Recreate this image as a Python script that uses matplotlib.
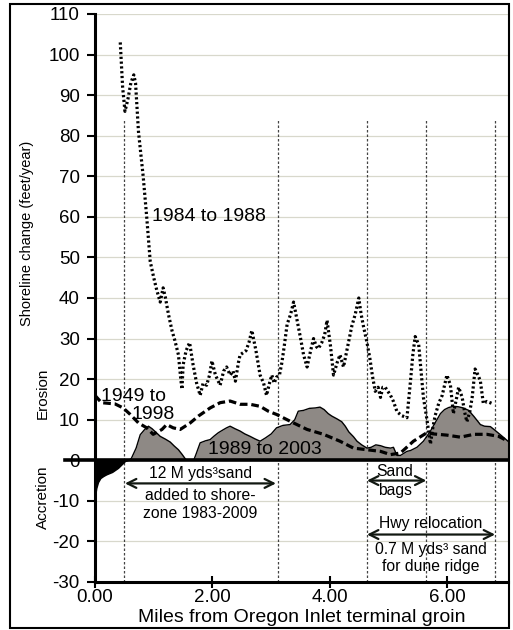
#!/usr/bin/env python3
"""
Shoreline change along the Oregon Inlet reach (three survey periods).
Writes out.png
"""

import matplotlib
matplotlib.use("Agg")
import matplotlib.pyplot as plt
from matplotlib.patches import Rectangle

# ---------- data ----------
# 1984 to 1988, dotted
miles_8488 = [0.43, 0.47, 0.51, 0.56, 0.61, 0.66, 0.69, 0.74, 0.82, 0.88, 0.94, 1.00,
              1.05, 1.11, 1.16, 1.20, 1.25, 1.31, 1.36, 1.42, 1.46, 1.48, 1.50, 1.55,
              1.61, 1.67, 1.73, 1.79, 1.84, 1.90, 1.95, 1.99, 2.05, 2.13, 2.19, 2.24,
              2.30, 2.35, 2.39, 2.44, 2.47, 2.57, 2.62, 2.67, 2.74, 2.81, 2.87, 2.92,
              2.97, 3.01, 3.05, 3.09, 3.14, 3.18, 3.22, 3.27, 3.33, 3.38, 3.44, 3.50,
              3.55, 3.61, 3.67, 3.72, 3.77, 3.80, 3.86, 3.91, 3.95, 4.01, 4.06, 4.12,
              4.17, 4.23, 4.30, 4.37, 4.43, 4.49, 4.53, 4.57, 4.63, 4.68, 4.72, 4.77,
              4.82, 4.86, 4.90, 4.94, 5.03, 5.08, 5.14, 5.22, 5.31, 5.37, 5.41, 5.45,
              5.51, 5.55, 5.59, 5.64, 5.68, 5.71, 5.75, 5.79, 5.85, 5.91, 5.99, 6.05,
              6.10, 6.15, 6.19, 6.25, 6.29, 6.33, 6.38, 6.42, 6.47, 6.52, 6.56, 6.61,
              6.67, 6.76]
rate_8488 = [103, 92, 86, 89, 93, 95, 93, 81, 70, 60, 49, 45,
             42, 39, 42.5, 40, 36, 32, 29.5, 26, 20, 17.5, 23.5, 27,
             29, 23.5, 19, 16, 19, 18.5, 21, 24.5, 21, 18.5, 22, 23,
             21, 22, 19.5, 24, 26, 27, 29, 32, 27, 21, 19, 16,
             19, 21, 19, 20.5, 21, 24, 28, 33.5, 36, 39, 34.5, 30,
             26, 23, 27, 30, 28, 27.5, 29, 31, 34.5, 28, 21, 24,
             26, 23, 28, 33, 36, 40, 36, 33, 29, 25, 21, 17,
             18, 15.5, 18, 18, 16, 14.5, 12, 11, 10.5, 19.5, 26, 30.5,
             28.5, 22, 15.5, 11, 7, 4, 8, 11, 14, 16, 21, 18.5,
             11.5, 15, 18, 15.5, 12, 9.5, 12, 15.5, 22.5, 21, 19.5, 14,
             14.5, 14]

# 1949 to 1998, dashed
miles_4998 = [0.00, 0.03, 0.11, 0.34, 0.48, 0.60, 0.74, 0.88, 0.99, 1.14, 1.22, 1.33,
              1.45, 1.62, 1.76, 1.96, 2.13, 2.30, 2.47, 2.64, 2.81, 2.95, 3.09, 3.38,
              3.61, 3.89, 4.17, 4.40, 4.63, 4.86, 5.03, 5.20, 5.42, 5.65, 5.76, 5.99,
              6.22, 6.45, 6.67, 6.87, 7.03]
rate_4998 = [16, 15.5, 14.2, 13.9, 12.9, 11.3, 9.2, 8.0, 6.4, 7.6, 8.8, 8.0,
             7.6, 9.2, 10.9, 12.9, 14.2, 14.6, 13.8, 13.8, 13.3, 12.1, 11.3, 9.2,
             7.6, 6.4, 4.7, 3.0, 2.6, 2.2, 1.4, 1.8, 4.7, 6.8, 6.5, 6.2,
             5.7, 6.4, 6.4, 5.9, 4.7]

# 1989 to 2003, filled
miles_8903 = [0.00, 0.01, 0.03, 0.06, 0.10, 0.15, 0.20, 0.30, 0.40, 0.47, 0.52, 0.58,
              0.62, 0.70, 0.77, 0.84, 0.91, 0.97, 1.03, 1.11, 1.20, 1.28, 1.35, 1.42,
              1.48, 1.53, 1.56, 1.68, 1.72, 1.79, 1.88, 1.96, 2.03, 2.10, 2.18, 2.24,
              2.30, 2.38, 2.47, 2.55, 2.64, 2.72, 2.81, 2.90, 3.00, 3.09, 3.20, 3.32,
              3.40, 3.46, 3.55, 3.65, 3.75, 3.83, 3.90, 3.97, 4.03, 4.12, 4.20, 4.26,
              4.32, 4.40, 4.46, 4.54, 4.63, 4.70, 4.78, 4.86, 4.94, 5.03, 5.08, 5.14,
              5.20, 5.31, 5.37, 5.48, 5.59, 5.71, 5.80, 5.88, 5.95, 6.02, 6.10, 6.18,
              6.27, 6.36, 6.45, 6.56, 6.63, 6.73, 6.80, 6.90, 7.03]
rate_8903 = [-10, -9, -7, -5.5, -4.5, -4, -3.6, -3, -2, -1, -0.3, 0,
             0.5, 3, 6.3, 7.5, 8.4, 7.8, 7, 5.9, 5.2, 4.5, 3.5, 2.6,
             1.5, 0.5, 0, 0, 1.5, 4.3, 4.8, 5.1, 6, 6.8, 7.5, 8,
             8.4, 7.8, 7.2, 6.5, 5.9, 5.3, 4.7, 5.5, 6.5, 8, 8.6, 8.8,
             10, 12.1, 12.3, 12.8, 12.9, 13.1, 12.5, 11.5, 10.9, 10.2, 9.5, 8.4,
             7, 5.8, 4.7, 3.8, 3.0, 3.2, 3.8, 3.6, 3.2, 3.0, 3.2, 1.2,
             1.2, 2.2, 2.4, 3.2, 4.7, 7.2, 9.5, 11.5, 12.5, 13, 13.3, 13.2,
             12.9, 12.3, 10.8, 8.8, 8.4, 8.3, 7.5, 6.3, 4.7]

# project boundaries (vertical dotted lines)
boundary_miles = [0.49, 3.12, 4.63, 5.64, 6.81]
boundary_top = 84

y_ticks = list(range(-30, 111, 10))
x_ticks = [0, 2, 4, 6]

# ---------- figure ----------
plt.rcParams["font.family"] = ["Liberation Sans", "DejaVu Sans"]

fig = plt.figure(figsize=(5.13, 6.30), dpi=100)
ax = fig.add_axes([95 / 513, 48 / 630, 413 / 513, 568 / 630])
ax.set_xlim(0, 7.03)
ax.set_ylim(-30, 110)

# light horizontal grid
for yv in y_ticks:
    if yv in (-30, 0):
        continue
    ax.axhline(yv, color="#d8d8cc", lw=0.9, zorder=0)

# boundaries
for xb in boundary_miles:
    ax.plot([xb, xb], [-30, boundary_top], color="#444444", lw=0.9,
            ls=(0, (2, 1.6)), zorder=1)

# 1989-2003 fill (gray above, black below)
ax.fill_between(miles_8903, 0, rate_8903, where=[v >= 0 for v in rate_8903],
                interpolate=True, color="#8e8985", lw=0, zorder=2)
ax.fill_between(miles_8903, 0, rate_8903, where=[v <= 0 for v in rate_8903],
                interpolate=True, color="black", lw=0, zorder=2)
ax.plot(miles_8903, rate_8903, color="black", lw=1.0, zorder=3)

# other periods
ax.plot(miles_4998, rate_4998, color="black", lw=2.3, ls=(0, (2.4, 1.2)), zorder=4)
ax.plot(miles_8488, rate_8488, color="black", lw=2.3, ls=(0, (0.7, 0.8)), zorder=4)

# thick zero line, runs a bit left of the axis
ax.plot([-0.51, 7.03], [0, 0], color="black", lw=2.6, clip_on=False, zorder=5)

# ---------- axes ----------
for side in ("top", "right"):
    ax.spines[side].set_visible(False)
ax.spines["left"].set_linewidth(2.2)
ax.spines["bottom"].set_linewidth(2.2)

ax.set_yticks(y_ticks)
ax.set_yticklabels([str(v) for v in y_ticks])
ax.set_xticks(x_ticks)
ax.set_xticklabels([f"{v:.2f}" for v in x_ticks])
ax.tick_params(axis="y", direction="out", length=6, width=1.5, labelsize=13.5, pad=5)
ax.tick_params(axis="x", direction="inout", length=8, width=1.5, labelsize=13.5, pad=1)

ax.set_xlabel("Miles from Oregon Inlet terminal groin", fontsize=14, labelpad=2)
fig.text(27 / 513, 1 - 233 / 630, "Shoreline change (feet/year)", rotation=90,
         ha="center", va="center", fontsize=10.5)
fig.text(43 / 513, 1 - 393 / 630, "Erosion", rotation=90,
         ha="center", va="center", fontsize=11)
fig.text(43 / 513, 1 - 497 / 630, "Accretion", rotation=90,
         ha="center", va="center", fontsize=11)

# ---------- series labels ----------
ax.text(0.97, 60, "1984 to 1988", fontsize=14, ha="left", va="center", zorder=6)
ax.text(0.65, 15.8, "1949 to", fontsize=14, ha="center", va="center", zorder=6)
ax.text(0.99, 11.3, "1998", fontsize=14, ha="center", va="center", zorder=6)
ax.text(2.90, 2.6, "1989 to 2003", fontsize=14, ha="center", va="center", zorder=6)

# ---------- annotations ----------
arrow_kw = dict(arrowstyle="<->", color="#111811", lw=1.6, mutation_scale=16,
                shrinkA=0, shrinkB=0)
ax.annotate("", xy=(0.51, -5.7), xytext=(3.08, -5.7), arrowprops=arrow_kw, zorder=6)
ax.text(1.79, -3.3, "12 M yds³sand", fontsize=11.3, ha="center", va="center")
ax.text(1.79, -8.6, "added to shore-", fontsize=11.3, ha="center", va="center")
ax.text(1.79, -13.2, "zone 1983-2009", fontsize=11.3, ha="center", va="center")

ax.annotate("", xy=(4.63, -5.0), xytext=(5.64, -5.0), arrowprops=arrow_kw, zorder=6)
ax.text(5.10, -2.8, "Sand", fontsize=11.3, ha="center", va="center")
ax.text(5.10, -7.4, "bags", fontsize=11.3, ha="center", va="center")

ax.annotate("", xy=(4.63, -18.3), xytext=(6.81, -18.3), arrowprops=arrow_kw, zorder=6)
ax.text(5.72, -15.7, "Hwy relocation", fontsize=11.3, ha="center", va="center")
ax.text(5.72, -22.0, "0.7 M yds³ sand", fontsize=11.3, ha="center", va="center")
ax.text(5.72, -26.2, "for dune ridge", fontsize=11.3, ha="center", va="center")

# outer frame
fig.patches.append(Rectangle((10 / 513, 2 / 630), 499 / 513, 624 / 630,
                             transform=fig.transFigure, fill=False,
                             edgecolor="black", lw=1.5))

fig.savefig("out.png", dpi=100)
